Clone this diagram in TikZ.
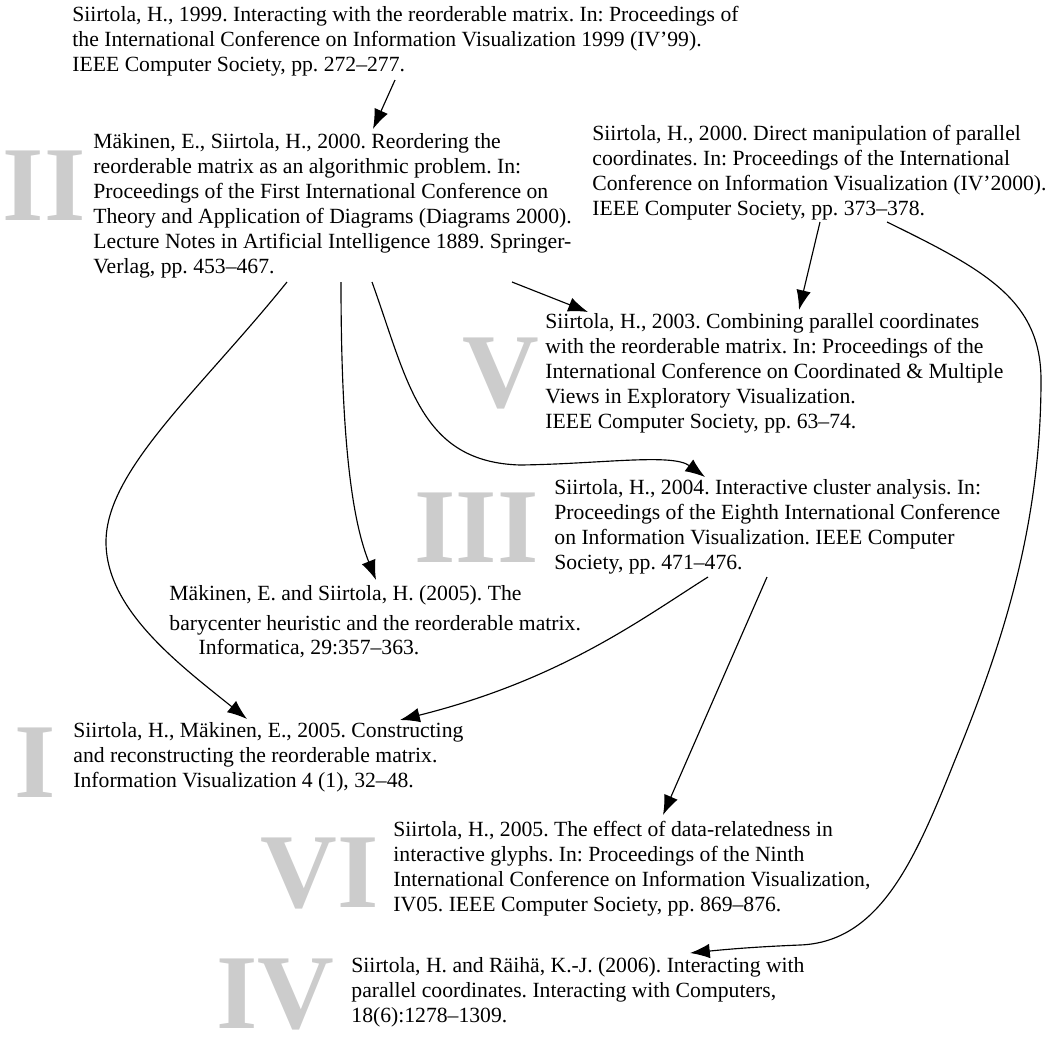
\documentclass[tikz,border=0pt]{standalone}
\usepackage{fontspec}
\setmainfont{Liberation Serif}
\frenchspacing
\usetikzlibrary{arrows.meta,calc}
\tikzstyle{RefText}=[anchor=north west, inner sep=0pt, align=left, font=\fontsize{10.4}{12}\selectfont, execute at begin node=\strut]
\tikzstyle{Numeral}=[anchor=north east, inner sep=0pt, text=gray!40, font=\fontsize{51}{51}\selectfont\bfseries]
\tikzstyle{Cita}=[-{Latex[length=9.5pt,width=7pt]}, line width=0.55pt]

\begin{document}
\begin{tikzpicture}[x=0.48pt,y=-0.48pt]
			\useasboundingbox (0,0) rectangle (1052,1036);

			%Numerales
			\node[Numeral]	(numII)		at (86,151)		{II};
			\node[Numeral]	(numV)		at (540,338)	{V};
			\node[Numeral]	(numIII)	at (539,493)	{III};
			\node[Numeral]	(numI)		at (56,727)		{I};
			\node[Numeral]	(numVI)		at (379,837)	{VI};
			\node[Numeral]	(numIV)		at (335,958)	{IV};

			%Referencias
			\node[RefText]	(ref99)		at (72,5.5)		{Siirtola, H., 1999. Interacting with the reorderable matrix. In: Proceedings of\\the International Conference on Information Visualization 1999 (IV'99).\\IEEE Computer Society, pp. 272--277.};
			\node[RefText]	(ref00a)	at (93,133.5)	{Mäkinen, E., Siirtola, H., 2000. Reordering the\\reorderable matrix as an algorithmic problem. In:\\Proceedings of the First International Conference on\\Theory and Application of Diagrams (Diagrams 2000).\\Lecture Notes in Artificial Intelligence 1889. Springer-\\Verlag, pp. 453--467.};
			\node[RefText]	(ref00b)	at (592,124.5)	{Siirtola, H., 2000. Direct manipulation of parallel\\coordinates. In: Proceedings of the International\\Conference on Information Visualization (IV'2000).\\IEEE Computer Society, pp. 373--378.};
			\node[RefText]	(ref03)		at (545,313.5)	{Siirtola, H., 2003. Combining parallel coordinates\\with the reorderable matrix. In: Proceedings of the\\International Conference on Coordinated \& Multiple\\Views in Exploratory Visualization.\\IEEE Computer Society, pp. 63--74.};
			\node[RefText]	(ref04)		at (554,479.5)	{Siirtola, H., 2004. Interactive cluster analysis. In:\\Proceedings of the Eighth International Conference\\on Information Visualization. IEEE Computer\\Society, pp. 471--476.};
			\node[RefText]	(ref05b)	at (169,585.5)	{Mäkinen, E. and Siirtola, H. (2005). The\\[2pt]barycenter heuristic and the reorderable matrix.\\[-0.5pt]\hspace*{14pt}Informatica, 29:357--363.};
			\node[RefText]	(ref05a)	at (73,722.5)	{Siirtola, H., Mäkinen, E., 2005. Constructing\\and reconstructing the reorderable matrix.\\Information Visualization 4 (1), 32--48.};
			\node[RefText]	(ref05c)	at (393,820.5)	{Siirtola, H., 2005. The effect of data-relatedness in\\interactive glyphs. In: Proceedings of the Ninth\\International Conference on Information Visualization,\\IV05. IEEE Computer Society, pp. 869--876.};
			\node[RefText]	(ref06)		at (351,957.5)	{Siirtola, H. and Räihä, K.-J. (2006). Interacting with\\parallel coordinates. Interacting with Computers,\\18(6):1278--1309.};

			%Citas
			\draw[Cita] ($(ref99.north west)+(323,74.5)$) -- ($(ref00a.north west)+(280,-4.5)$);
			\draw[Cita] ($(ref00a.north west)+(194,148.5)$) .. controls (200,390) and (106,470) .. (106,542) .. controls (106,610) and (180,665) .. ($(ref05a.north west)+(174,-3.5)$);
			\draw[Cita] ($(ref00a.north west)+(248,148.5)$) .. controls (341,440) and (352,520) .. ($(ref05b.north west)+(207,-5.5)$);
			\draw[Cita] ($(ref00a.north west)+(279,148.5)$) .. controls (408,382) and (420,462) .. (520,465) .. controls (600,464) and (672,453) .. ($(ref04.north west)+(151,-2.5)$);
			\draw[Cita] ($(ref00a.north west)+(419,148.5)$) -- ($(ref03.north west)+(43,-1.5)$);
			\draw[Cita] ($(ref00b.north west)+(228,97.5)$) -- ($(ref03.north west)+(254,-3.5)$);
			\draw[Cita] ($(ref00b.north west)+(295,97.5)$) .. controls (985,270) and (1041,300) .. (1041,380) .. controls (1041,530) and (1000,650) .. (955,760) .. controls (915,860) and (880,942) .. (800,945) .. controls (750,947) and (720,950) .. ($(ref06.north west)+(339,-4.5)$);
			\draw[Cita] ($(ref04.north west)+(154,97.5)$) .. controls (640,620) and (560,680) .. ($(ref05a.north west)+(327,-2.5)$);
			\draw[Cita] ($(ref04.north west)+(213,97.5)$) -- ($(ref05c.north west)+(270,-5.5)$);

		\end{tikzpicture}
\end{document}
